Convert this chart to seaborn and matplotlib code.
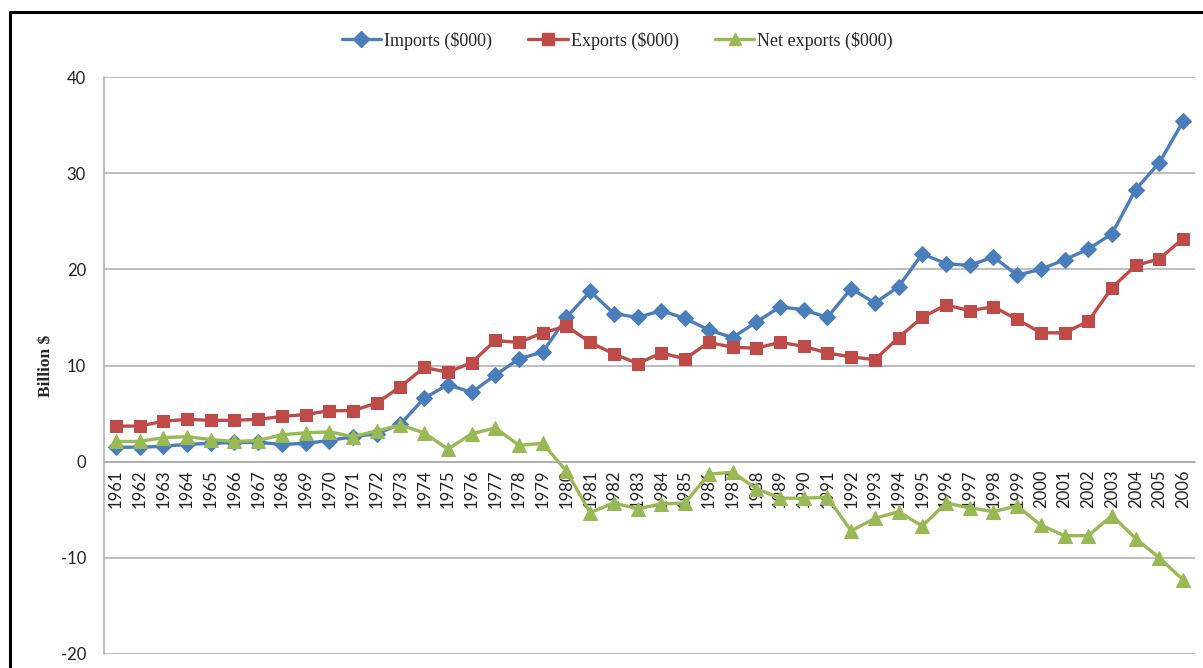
import matplotlib
matplotlib.use("Agg")
import matplotlib.pyplot as plt
import seaborn as sns
import pandas as pd
import numpy as np
from matplotlib.lines import Line2D

years = list(range(1961, 2007))
imports = [1.5, 1.5, 1.6, 1.8, 1.9, 2.0, 2.0, 1.8, 1.9, 2.2,
           2.6, 2.9, 3.9, 6.6, 8.0, 7.2, 9.0, 10.7, 11.4, 15.0,
           17.7, 15.4, 15.0, 15.7, 14.9, 13.7, 12.9, 14.5, 16.1, 15.8,
           15.0, 18.0, 16.5, 18.2, 21.6, 20.6, 20.4, 21.3, 19.4, 20.0,
           21.0, 22.1, 23.7, 28.3, 31.1, 35.4]
exports = [3.7, 3.7, 4.2, 4.4, 4.3, 4.3, 4.4, 4.7, 4.9, 5.3,
           5.3, 6.1, 7.8, 9.8, 9.3, 10.3, 12.6, 12.4, 13.4, 14.1,
           12.4, 11.2, 10.2, 11.3, 10.7, 12.4, 11.9, 11.8, 12.4, 12.0,
           11.3, 10.9, 10.6, 12.9, 15.0, 16.3, 15.7, 16.1, 14.8, 13.4,
           13.4, 14.6, 18.1, 20.4, 21.1, 23.2]
net_exports = [2.1, 2.1, 2.5, 2.6, 2.3, 2.1, 2.2, 2.8, 3.0, 3.1,
               2.6, 3.2, 3.8, 3.0, 1.3, 2.9, 3.5, 1.7, 1.9, -1.0,
               -5.3, -4.3, -4.9, -4.4, -4.3, -1.3, -1.1, -2.8, -3.8, -3.8,
               -3.7, -7.2, -5.9, -5.2, -6.7, -4.3, -4.8, -5.2, -4.6, -6.6,
               -7.7, -7.7, -5.6, -8.0, -10.0, -12.3]
series_names = ["Imports ($000)", "Exports ($000)", "Net exports ($000)"]
series_colors = ["#4A7EBB", "#BE4B48", "#98B954"]
series_markers = ["D", "s", "^"]
y_ticks = [-20, -10, 0, 10, 20, 30, 40]

sns.set_theme(style="white")
plt.rcParams["font.family"] = ["Lato", "DejaVu Sans"]

fig = plt.figure(figsize=(12.03, 6.68), dpi=100)
ax = fig.add_axes([104 / 1203, 1 - 654 / 668, (1195 - 104) / 1203, (654 - 77) / 668])

pos = np.arange(len(years))
msizes = [8.5, 9, 10]
for vals, name, col, mk, ms in zip([imports, exports, net_exports], series_names,
                                   series_colors, series_markers, msizes):
    df = pd.DataFrame({"x": pos, "y": vals})
    sns.lineplot(data=df, x="x", y="y", ax=ax, color=col, marker=mk, markersize=ms,
                 markeredgecolor=col, linewidth=2.4, label=name, legend=False)

ax.set_xlim(-0.5, len(years) - 0.5)
ax.set_ylim(-20, 40)
ax.set_yticks(y_ticks)
ax.set_yticklabels([str(t) for t in y_ticks], fontsize=12, color="#222222")
ax.tick_params(axis="y", length=0, pad=13)

ax.grid(axis="y", color="#ABABAB", linewidth=1.1)
ax.grid(axis="x", visible=False)
ax.set_axisbelow(True)

for s in ["top", "right"]:
    ax.spines[s].set_visible(False)
ax.spines["left"].set_color("#ABABAB")
ax.spines["left"].set_linewidth(1.1)
ax.spines["bottom"].set_position(("data", 0))
ax.spines["bottom"].set_color("#ABABAB")
ax.spines["bottom"].set_linewidth(1.1)

ax.set_xticks(pos)
ax.set_xticklabels([str(y) for y in years], rotation=90, fontsize=12, color="#222222")
ax.tick_params(axis="x", which="major", length=0, pad=6)
ax.set_xticks(np.arange(-0.5, len(years), 1.0), minor=True)
ax.tick_params(axis="x", which="minor", length=7, width=1, color="#ABABAB", direction="out")
ax.set_xlabel("")

ax.set_ylabel("Billion $", family=["Liberation Serif", "DejaVu Serif"], fontweight="bold", fontsize=12.5)
ax.yaxis.set_label_coords(-0.046, 0.5)

handles = [Line2D([], [], color=c, marker=m, markersize=ms * 0.9, linewidth=2.4, markeredgecolor=c)
           for c, m, ms in zip(series_colors, series_markers, msizes)]
fig.legend(handles, series_names, loc="center", bbox_to_anchor=(0.513, 0.939), ncol=3,
           frameon=False, prop={"family": ["Liberation Serif", "DejaVu Serif"], "size": 13},
           handlelength=2.2, handletextpad=0.15, columnspacing=2.0)

fig.add_artist(Line2D([10 / 1203, 10 / 1203], [0, 1 - 12 / 668], transform=fig.transFigure,
                      color="black", linewidth=2.2))
fig.add_artist(Line2D([10 / 1203, 1], [1 - 12 / 668, 1 - 12 / 668], transform=fig.transFigure,
                      color="black", linewidth=2.2))

fig.savefig("out.png", dpi=100)
